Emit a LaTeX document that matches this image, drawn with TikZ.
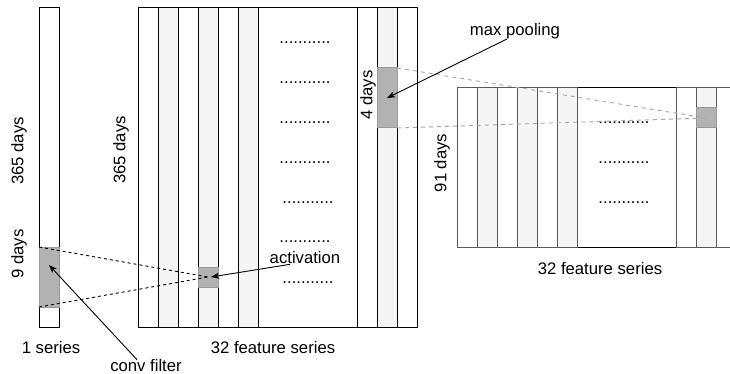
\documentclass[tikz,border=0pt]{standalone}
\usepackage{fontspec}
\setmainfont{Liberation Sans}
\usetikzlibrary{arrows.meta,positioning,calc}

\colorlet{stripfill}{gray!8}
\colorlet{hitfill}{gray!60}

\tikzset{
  lbl/.style={font=\fontsize{16.7}{20}\selectfont, inner sep=0pt},
  vlbl/.style={lbl, rotate=90},
  dots/.style={lbl},
  col/.style={draw, line width=1pt, anchor=north west, minimum width=20pt,
    inner sep=0pt, outer sep=0pt},
  block/.style={col, fill=white},
  hit/.style={col, fill=hitfill, draw=gray!80},
  convline/.style={line width=0.9pt, dash pattern=on 3pt off 3pt},
  poolline/.style={line width=0.9pt, gray!70, dash pattern=on 4pt off 4pt},
  arr/.style={line width=0.9pt, -{Stealth[length=8pt,width=6pt,inset=2pt]}}
}

\begin{document}
\begin{tikzpicture}[x=1pt,y=-1pt]
\clip (0,0) rectangle (730,374);

% input series
\node[block, minimum height=319pt] (input) at (39,8) {};
\node[hit, minimum height=60pt] (filter) at (39,247) {};

% conv feature series
\node[block, minimum width=279pt, minimum height=319pt] (conv) at (138,8) {};
\foreach \x/\f in {138/white,158/stripfill,178/white,198/stripfill,218/white,
                   238/stripfill,357/white,377/stripfill,397/white}
  \node[col, fill=\f, minimum height=319pt] (c\x) at (\x,8) {};
\node[hit, minimum height=20pt] (act) at (198,267) {};
\node[hit, minimum height=60pt] (fourdays) at (377,68) {};
\foreach \y/\x in {43/305,83/305,123/305,163/305,203/308,242/305,283/308}
  \node[dots] (cd\y) at (\x,\y) {...........};

% pooled feature series
\node[block, minimum width=290pt, minimum height=159pt] (pool) at (457,88) {};
\foreach \x/\f in {457/white,477/stripfill,497/white,517/stripfill,537/white,
                   557/stripfill,676/white,696/stripfill,716/white}
  \node[col, fill=\f, draw=gray!70!black, minimum height=159pt] (p\x) at (\x,88) {};
\node[hit, minimum height=20pt] (pooled) at (696,108) {};
\foreach \y in {123,163,203}
  \node[dots] (pd\y) at (624,\y) {...........};

% receptive fields
\draw[convline] (filter.north west) -- (act.center);
\draw[convline] (filter.south west) -- (act.center);
\draw[poolline] (fourdays.north east) -- (pooled.center);
\draw[poolline] (fourdays.south east) -- (pooled.center);

% labels
\node[vlbl] (len365a) at (19,151) {365 days};
\node[vlbl] (len9) at (19,254) {9 days};
\node[vlbl] (len365b) at (121,150) {365 days};
\node[vlbl] (len4) at (368,95) {4 days};
\node[vlbl] (len91) at (442,163) {91 days};
\node[lbl] (inlbl) at (51,348) {1 series};
\node[lbl] (convlbl) at (146,366) {conv filter};
\node[lbl] (featlbl) at (273,348) {32 feature series};
\node[lbl] (poolfeat) at (600,269) {32 feature series};
\node[lbl] (actlbl) at (305,258) {activation};
\node[lbl] (poollbl) at (515,31) {max pooling};

% pointers
\draw[arr] ([xshift=-9pt]convlbl.north) -- ([yshift=12pt]filter.center);
\draw[arr] ([xshift=-15pt]actlbl.south) -- ([xshift=3pt]act.center);
\draw[arr] ([xshift=-8pt]poollbl.south) -- (fourdays.center);
\end{tikzpicture}
\end{document}
